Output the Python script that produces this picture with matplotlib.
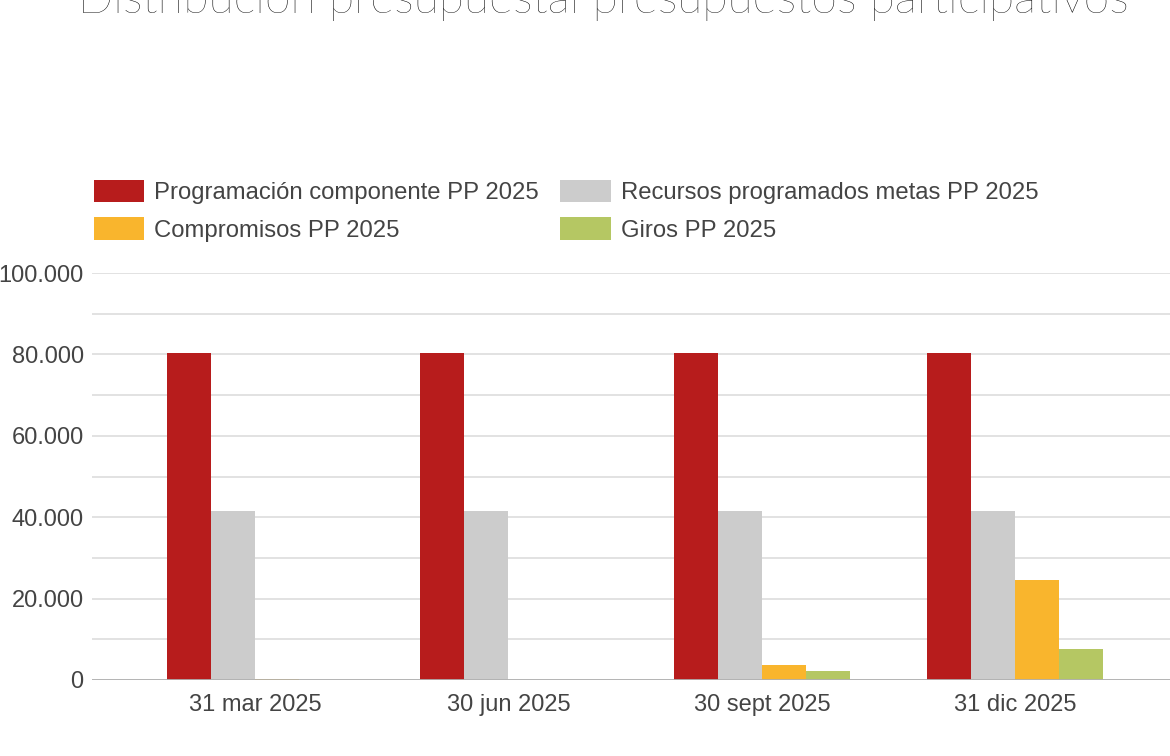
import numpy as np
import matplotlib.pyplot as plt
from matplotlib.ticker import MultipleLocator, FuncFormatter

# Datos
fechas = ["31 mar 2025", "30 jun 2025", "30 sept 2025", "31 dic 2025"]
programacion = [80400, 80400, 80400, 80400]
recursos = [41500, 41500, 41500, 41500]
compromisos = [300, 0, 3700, 24600]
giros = [0, 0, 2200, 7600]

series = ["Programación componente PP 2025", "Recursos programados metas PP 2025",
          "Compromisos PP 2025", "Giros PP 2025"]
colores = ["#b71c1c", "#cccccc", "#f9b52d", "#b5c763"]

plt.rcParams['font.family'] = ['Liberation Sans', 'DejaVu Sans']

fig = plt.figure(figsize=(11.7, 7.56), dpi=100)
ax = fig.add_axes([92 / 1170, 76 / 756, 1 - 92 / 1170, (680 - 273) / 756 * 1.0])

x = np.arange(len(fechas))
w = 0.1736
datos = [programacion, recursos, compromisos, giros]
barras = []
for i, (d, c) in enumerate(zip(datos, colores)):
    b = ax.bar(x - 1.5 * w + i * w, d, w, color=c, zorder=3)
    barras.append(b)

ax.set_xlim(-0.643, 3.61)
ax.set_ylim(0, 100000)
ax.yaxis.set_major_locator(MultipleLocator(20000))
ax.yaxis.set_minor_locator(MultipleLocator(10000))
ax.yaxis.set_major_formatter(FuncFormatter(lambda v, p: f"{int(v):,}".replace(",", ".")))
ax.grid(axis='y', which='both', color='#dddddd', linewidth=1.2, zorder=0)
ax.axhline(0, color='#b0b0b0', linewidth=2, zorder=4)
for s in ax.spines.values():
    s.set_visible(False)
ax.tick_params(axis='both', which='both', length=0, labelsize=17, labelcolor='#444444')
ax.tick_params(axis='y', pad=6)
ax.tick_params(axis='x', pad=10)
ax.set_xticks(x)
ax.set_xticklabels(fechas)

fig.legend([barras[0], barras[2], barras[1], barras[3]],
           [series[0], series[2], series[1], series[3]],
           ncol=2, loc='upper left', bbox_to_anchor=(94 / 1170, 1 - 180 / 756),
           frameon=False, fontsize=17.2, handlelength=2.1, handleheight=1.05,
           handletextpad=0.42, columnspacing=0.9, labelspacing=0.55,
           borderpad=0, borderaxespad=0, labelcolor='#444444')

fig.text(0.516, 1 - 13 / 756, "Distribución presupuestal presupuestos participativos",
         ha='center', va='baseline', fontsize=33.4, fontweight='light',
         family=['Lato', 'DejaVu Sans'], color='#000000')

fig.savefig("out.png", dpi=100)
